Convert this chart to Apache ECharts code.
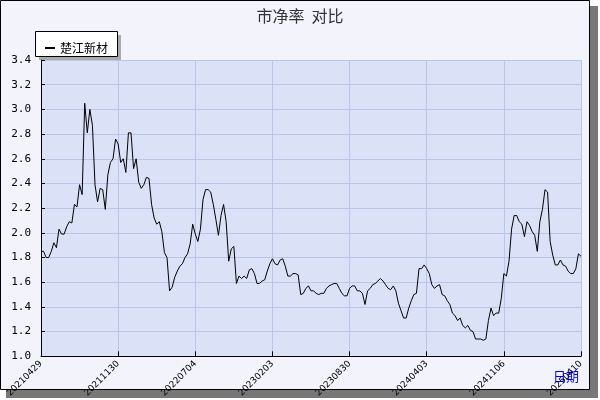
<!DOCTYPE html>
<html><head><meta charset="utf-8">
<script src="https://cdn.jsdelivr.net/npm/echarts@6/dist/echarts.min.js"></script>
<style>html,body{margin:0;padding:0;background:#fff}#c{width:600px;height:400px}</style>
</head><body><div id="c"></div>
<script>
const tickLabels = ['20210429','20211130','20220704','20230203','20230830','20240403','20241106','20250410'];
const seriesName = '楚江新材';
const values = [
1.85,1.85,1.80,1.80,1.85,1.92,1.88,2.03,1.99,1.99,
2.05,2.09,2.08,2.23,2.21,2.39,2.31,3.05,2.81,3.00,
2.87,2.39,2.25,2.36,2.35,2.19,2.47,2.57,2.60,2.76,
2.72,2.57,2.60,2.49,2.81,2.81,2.52,2.60,2.41,2.36,
2.39,2.45,2.44,2.23,2.12,2.07,2.09,2.01,1.84,1.80,
1.53,1.56,1.64,1.69,1.73,1.75,1.80,1.83,1.91,2.07,
1.99,1.93,2.03,2.27,2.35,2.35,2.33,2.23,2.11,1.98,
2.14,2.23,2.09,1.77,1.87,1.89,1.59,1.65,1.63,1.65,
1.63,1.70,1.71,1.67,1.59,1.59,1.61,1.62,1.69,1.75,
1.79,1.75,1.74,1.78,1.79,1.73,1.65,1.65,1.67,1.67,
1.66,1.50,1.51,1.55,1.57,1.53,1.53,1.51,1.50,1.51,
1.51,1.55,1.57,1.58,1.59,1.59,1.55,1.51,1.49,1.49,
1.55,1.57,1.57,1.53,1.53,1.51,1.42,1.53,1.55,1.58,
1.59,1.61,1.63,1.61,1.58,1.55,1.54,1.57,1.53,1.43,
1.37,1.31,1.31,1.39,1.45,1.50,1.51,1.71,1.71,1.74,
1.71,1.67,1.58,1.55,1.57,1.58,1.50,1.49,1.45,1.42,
1.35,1.33,1.29,1.31,1.25,1.23,1.25,1.21,1.20,1.14,
1.14,1.14,1.13,1.14,1.29,1.39,1.33,1.35,1.35,1.47,
1.67,1.65,1.77,2.03,2.14,2.14,2.09,2.07,1.97,2.09,
2.06,2.01,1.98,1.85,2.09,2.19,2.35,2.33,1.93,1.82,
1.74,1.74,1.78,1.74,1.73,1.69,1.67,1.67,1.71,1.83,
1.81];
const categories = values.map((v,i)=>String(i));
const font = 'DejaVu Sans';
const chart = echarts.init(document.getElementById('c'));
chart.setOption({
  animation:false,
  backgroundColor:'#ffffff',
  graphic:[
    {type:'rect',z:-10,shape:{x:6,y:6,width:592,height:392},style:{fill:'#777777'}},
    {type:'rect',z:-9,shape:{x:0.5,y:0.5,width:589,height:389},style:{fill:'#f2f3fb',stroke:'#000',lineWidth:1}},
    {type:'rect',z:-8,shape:{x:39,y:35,width:82,height:25},style:{fill:'#aaaaaa'}},
    {type:'rect',z:-7,shape:{x:35.5,y:31.5,width:82,height:25},style:{fill:'#ffffff',stroke:'#000',lineWidth:1}},
    {type:'text',left:553,top:370,style:{text:'日期',fill:'#0000ff',font:'13px "Noto Sans CJK SC"'}}
  ],
  title:{text:'市净率  对比',left:'center',top:3,textStyle:{fontFamily:'Noto Sans CJK SC',fontSize:16,fontWeight:'normal',color:'#333'}},
  legend:{left:40,top:37,itemWidth:10,itemHeight:2,icon:'rect',itemGap:4,
    textStyle:{fontFamily:'Noto Sans CJK SC',fontSize:12,color:'#000'},data:[seriesName]},
  grid:{left:41,right:19,top:60,bottom:39,show:true,backgroundColor:'#dbe1f7',borderWidth:0},
  xAxis:{type:'category',data:categories,boundaryGap:false,
    axisLine:{lineStyle:{color:'#000'}},
    axisTick:{inside:true,interval:29,length:5,lineStyle:{color:'#000'}},
    splitLine:{show:true,interval:29,lineStyle:{color:'#b9c6ea'}},
    axisLabel:{interval:29,rotate:45,fontSize:9,fontFamily:font,color:'#000',margin:6,
      formatter:(v,i)=>tickLabels[Math.round(i/30)]||''}},
  yAxis:{type:'value',min:1,max:3.4,interval:0.2,
    axisLine:{show:true,lineStyle:{color:'#000'}},
    axisTick:{show:true,inside:true,length:4,lineStyle:{color:'#000'}},
    splitLine:{lineStyle:{color:'#b9c6ea'}},
    axisLabel:{fontSize:11,fontFamily:'DejaVu Sans Mono',color:'#000',margin:10,formatter:v=>v.toFixed(1)}},
  series:[{name:seriesName,type:'line',data:values,symbol:'none',lineStyle:{color:'#000',width:1},itemStyle:{color:'#000'}}]
});
</script></body></html>
